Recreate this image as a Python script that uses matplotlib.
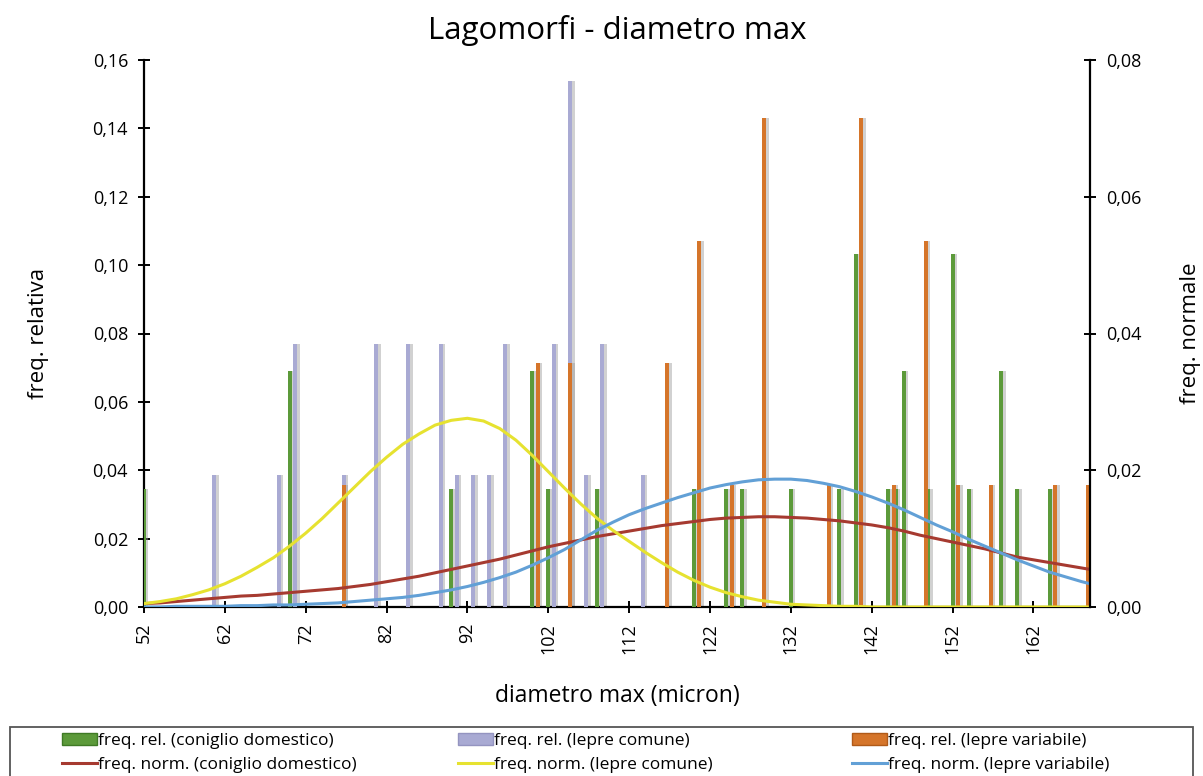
import matplotlib
matplotlib.use("Agg")
import matplotlib.pyplot as plt
from matplotlib.patches import Patch, Rectangle
from matplotlib.lines import Line2D
from matplotlib.ticker import FuncFormatter

plt.rcParams['font.family'] = ['Open Sans', 'DejaVu Sans']

# relative frequencies (bars, left axis)
coniglio_x = [52, 70, 90, 100, 102, 108, 120, 124, 126, 132, 138, 140, 144, 145, 146,
              149, 152, 154, 158, 160, 164]
coniglio_y = [0.0345, 0.069, 0.0345, 0.069, 0.0345, 0.0345, 0.0345, 0.0345, 0.0345,
              0.0345, 0.0345, 0.1034, 0.0345, 0.0345, 0.069, 0.0345, 0.1034, 0.0345,
              0.069, 0.0345, 0.0345]

comune_x = [61, 69, 71, 77, 81, 85, 89, 91, 93, 95, 97, 103, 105, 107, 109, 114]
comune_y = [0.0385, 0.0385, 0.0769, 0.0385, 0.0769, 0.0769, 0.0769, 0.0385, 0.0385,
            0.0385, 0.0769, 0.0769, 0.1538, 0.0385, 0.0769, 0.0385]

variabile_x = [77, 101, 105, 117, 121, 125, 129, 137, 141, 145, 149, 153, 157, 165, 169]
variabile_y = [0.0357, 0.0714, 0.0714, 0.0714, 0.1071, 0.0357, 0.1429, 0.0357, 0.1429,
               0.0357, 0.1071, 0.0357, 0.0357, 0.0357, 0.0357]

# normal curves (right axis), every 2 micron
curve_x = list(range(52, 169, 2)) + [169]
norm_coniglio = [0.0005, 0.0006, 0.0008, 0.0010, 0.0012, 0.0014, 0.0016, 0.0017, 0.0019,
                 0.0021, 0.0023, 0.0025, 0.0027, 0.0030, 0.0033, 0.0037, 0.0041, 0.0045,
                 0.0050, 0.0055, 0.0060, 0.0065, 0.0070, 0.0076, 0.0082, 0.0088, 0.0093,
                 0.0098, 0.0103, 0.0107, 0.0111, 0.0115, 0.0119, 0.0122, 0.0125, 0.0128,
                 0.0130, 0.0131, 0.0132, 0.0132, 0.0131, 0.0130, 0.0128, 0.0126, 0.0123,
                 0.0120, 0.0116, 0.0111, 0.0105, 0.0100, 0.0095, 0.0090, 0.0085, 0.0079,
                 0.0073, 0.0069, 0.0065, 0.0061, 0.0057, 0.0055]
norm_comune = [0.0005, 0.0008, 0.0012, 0.0018, 0.0025, 0.0034, 0.0045, 0.0058, 0.0072,
               0.0089, 0.0108, 0.0129, 0.0152, 0.0175, 0.0198, 0.0219, 0.0238, 0.0253,
               0.0266, 0.0273, 0.0276, 0.0272, 0.0261, 0.0244, 0.0222, 0.0198, 0.0174,
               0.0151, 0.0130, 0.0112, 0.0096, 0.0080, 0.0065, 0.0051, 0.0039, 0.0029,
               0.0021, 0.0015, 0.0010, 0.0007, 0.0004, 0.0003, 0.0002, 0.0001, 0.0001,
               0.0, 0.0, 0.0, 0.0, 0.0, 0.0, 0.0, 0.0, 0.0, 0.0, 0.0, 0.0, 0.0, 0.0, 0.0]
norm_variabile = [0.0, 0.0, 0.0001, 0.0001, 0.0001, 0.0001, 0.0002, 0.0002, 0.0003,
                  0.0003, 0.0004, 0.0005, 0.0006, 0.0008, 0.0010, 0.0012, 0.0014, 0.0017,
                  0.0021, 0.0025, 0.0030, 0.0036, 0.0043, 0.0051, 0.0061, 0.0072, 0.0084,
                  0.0098, 0.0112, 0.0124, 0.0135, 0.0144, 0.0152, 0.0160, 0.0167, 0.0174,
                  0.0179, 0.0183, 0.0186, 0.0187, 0.0187, 0.0185, 0.0181, 0.0176, 0.0169,
                  0.0161, 0.0152, 0.0142, 0.0131, 0.0120, 0.0110, 0.0099, 0.0089, 0.0079,
                  0.0069, 0.0060, 0.0051, 0.0044, 0.0037, 0.0034]

xticks = [52, 62, 72, 82, 92, 102, 112, 122, 132, 142, 152, 162]

green = '#5c9a3a'
lilac = '#a9aad3'
orange = '#d5752a'
red = '#a63a30'
yellow = '#e6e230'
blue = '#62a0d6'

W, H = 1203, 776
fig = plt.figure(figsize=(W / 100, H / 100), dpi=100)
ax = fig.add_axes([144 / W, 1 - 607 / H, (1090 - 144) / W, (607 - 60) / H])
ax2 = ax.twinx()

w = 0.5
sh = 0.3
for xs, ys, col, off in [(comune_x, comune_y, lilac, -0.3),
                         (coniglio_x, coniglio_y, green, 0.0),
                         (variabile_x, variabile_y, orange, -0.3)]:
    # grey shadow behind each bar
    ax.bar([x + off + sh for x in xs], ys, width=w, color='#9a9a9a', alpha=0.45, zorder=2)
    ax.bar([x + off for x in xs], ys, width=w, color=col, zorder=3)

ax2.plot(curve_x, norm_coniglio, color=red, lw=2.2)
ax2.plot(curve_x, norm_comune, color=yellow, lw=2.2)
ax2.plot(curve_x, norm_variabile, color=blue, lw=2.2)

ax.set_xlim(52, 169)
ax.set_ylim(0, 0.16)
ax2.set_ylim(0, 0.08)
ax.set_yticks([i * 0.02 for i in range(9)])
ax2.set_yticks([i * 0.02 for i in range(5)])
fmt = FuncFormatter(lambda v, p: f"{v:.2f}".replace('.', ','))
ax.yaxis.set_major_formatter(fmt)
ax2.yaxis.set_major_formatter(fmt)
ax.set_xticks(xticks)
ax.set_xticklabels([str(t) for t in xticks], rotation=90)

for a in (ax, ax2):
    a.spines['top'].set_visible(False)
    for s in ('left', 'right', 'bottom'):
        a.spines[s].set_linewidth(1.6)
    a.tick_params(direction='inout', length=9, width=1.4, labelsize=13, pad=7)
ax.spines['right'].set_visible(False)
ax2.spines['left'].set_visible(False)
ax2.spines['bottom'].set_visible(False)

ax.set_ylabel('freq. relativa', fontsize=16, labelpad=31)
ax2.set_ylabel('freq. normale', fontsize=16, labelpad=28)
ax.set_xlabel('diametro max (micron)', fontsize=16.5, labelpad=22)
ax.set_title('Lagomorfi - diametro max', fontsize=22.5, pad=15)

# legend: box plus three columns placed like the original
fig.add_artist(Rectangle((10 / W, -0.01), 1183 / W, (776 - 727) / H + 0.01,
                         transform=fig.transFigure, fill=False,
                         edgecolor='#555555', lw=1.3))
columns = [
    ([Patch(facecolor=green, edgecolor='#3f7a25'), Line2D([], [], color=red, lw=2.2)],
     ['freq. rel. (coniglio domestico)', 'freq. norm. (coniglio domestico)'], 62),
    ([Patch(facecolor=lilac, edgecolor='#9494c0'), Line2D([], [], color=yellow, lw=2.2)],
     ['freq. rel. (lepre comune)', 'freq. norm. (lepre comune)'], 458),
    ([Patch(facecolor=orange, edgecolor='#b05a18'), Line2D([], [], color=blue, lw=2.2)],
     ['freq. rel. (lepre variabile)', 'freq. norm. (lepre variabile)'], 852),
]
for hs, ls, x0 in columns:
    fig.legend(hs, ls, loc='upper left', bbox_to_anchor=(x0 / W, 1 - 733 / H),
               fontsize=12.5, frameon=False, handlelength=2.0, handletextpad=0.1,
               labelspacing=0.45, borderpad=0.0, borderaxespad=0.0)

fig.savefig('out.png', dpi=100)
